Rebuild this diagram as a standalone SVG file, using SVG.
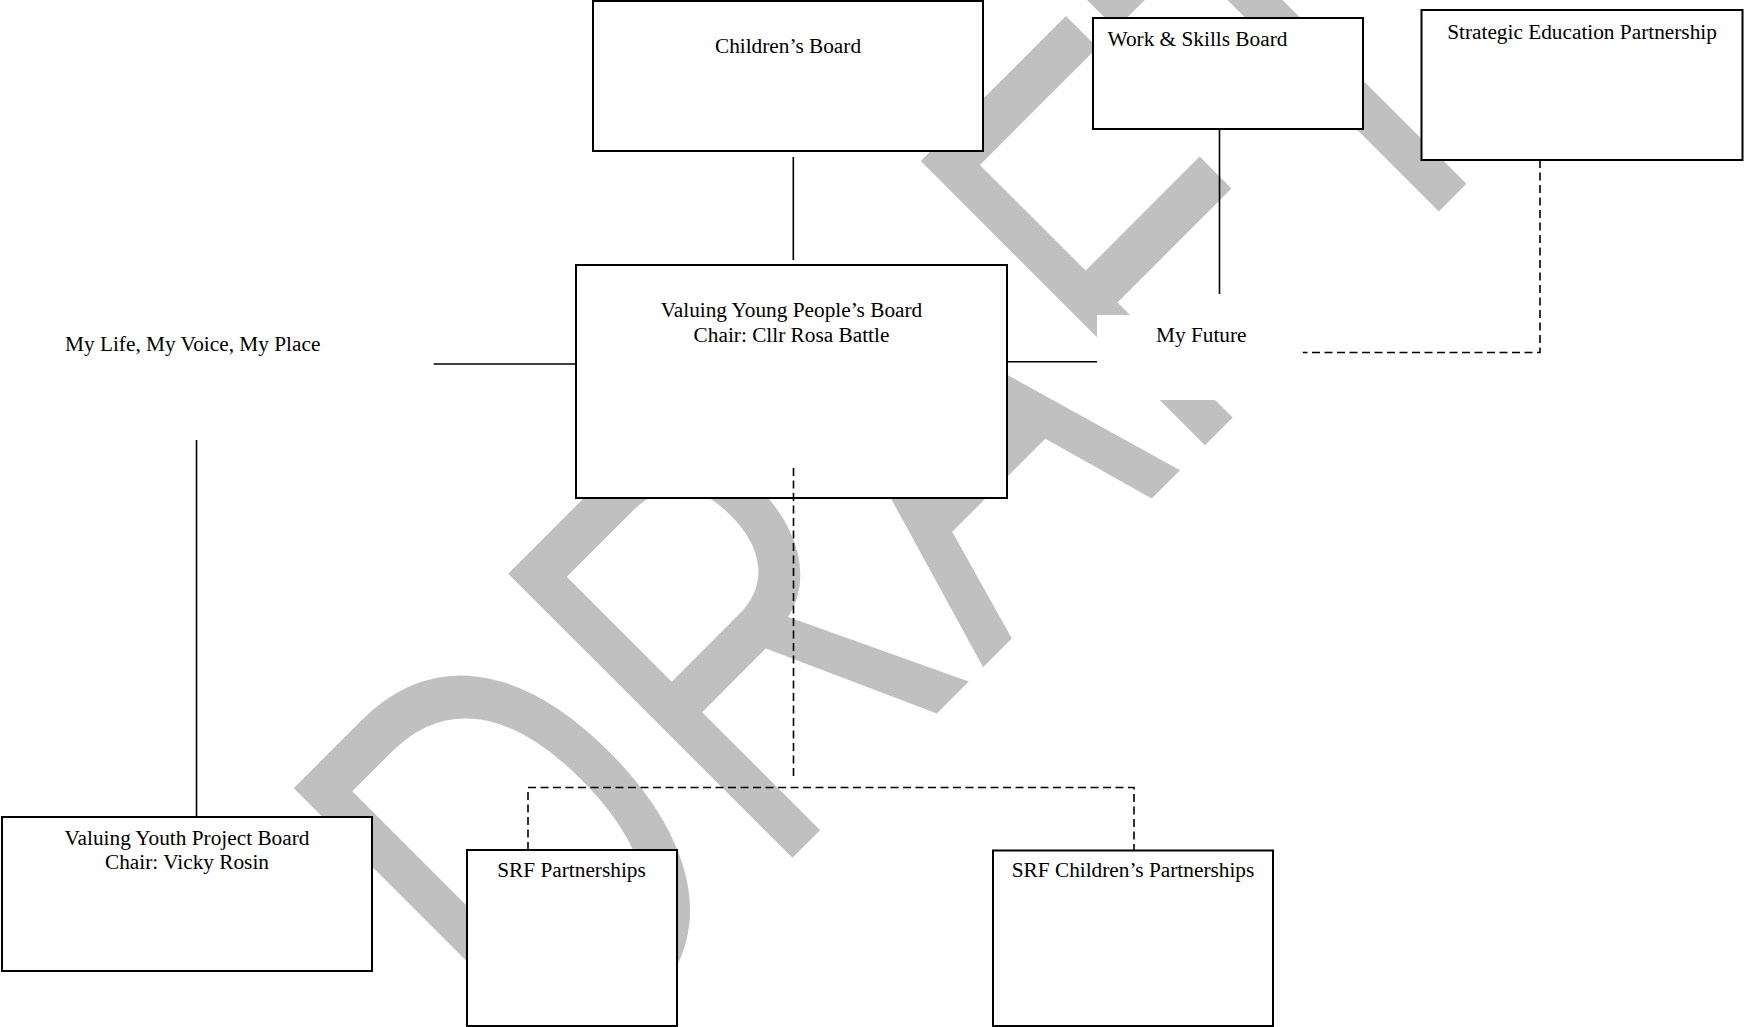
<svg xmlns="http://www.w3.org/2000/svg" width="1744" height="1027" viewBox="0 0 1744 1027">
<defs>
<style>
.box{fill:#ffffff;stroke:#000000;stroke-width:2}
.lbl{font-family:"Liberation Serif","Times New Roman",serif;font-size:21.3px;fill:#000000}
.mid{text-anchor:middle}
.ln{fill:none;stroke:#000000;stroke-width:1.6}
.dash{fill:none;stroke:#000000;stroke-width:1.6;stroke-dasharray:8 4.5}
.wm{font-family:"Liberation Sans",Arial,sans-serif;font-size:420px;fill:#c0c0c0}
</style>
</defs>
<rect x="0" y="0" width="1744" height="1027" fill="#ffffff"/>
<text class="wm" transform="translate(553.6,1096.7) rotate(-45) scale(1,1.391)" x="0" y="0">DRAFT</text>

<g id="childrens-board">
<rect class="box" x="593" y="1" width="390" height="150"/>
<text class="lbl mid" x="788" y="53.3">Children’s Board</text>
</g>
<g id="work-skills-board">
<rect class="box" x="1093" y="18" width="270" height="111"/>
<text class="lbl" x="1107.5" y="45.5">Work &amp; Skills Board</text>
</g>
<g id="strategic-education-partnership">
<rect class="box" x="1421.5" y="10" width="321" height="150"/>
<text class="lbl mid" x="1582" y="39.3">Strategic Education Partnership</text>
</g>
<g id="valuing-young-peoples-board">
<rect class="box" x="576" y="265" width="431" height="233"/>
<text class="lbl mid" x="791.5" y="316.7">Valuing Young People’s Board</text>
<text class="lbl mid" x="791.5" y="341.7">Chair: Cllr Rosa Battle</text>
</g>
<g id="my-life-my-voice-my-place">
<text class="lbl" x="65" y="350.5">My Life, My Voice, My Place</text>
</g>
<g id="my-future">
<rect x="1097" y="315" width="205" height="85" fill="#ffffff"/>
<text class="lbl" x="1156" y="341.7">My Future</text>
</g>
<g id="valuing-youth-project-board">
<rect class="box" x="2" y="817" width="370" height="154"/>
<text class="lbl mid" x="187" y="844.5">Valuing Youth Project Board</text>
<text class="lbl mid" x="187" y="869">Chair: Vicky Rosin</text>
</g>
<g id="srf-partnerships">
<rect class="box" x="467" y="850" width="210" height="176"/>
<text class="lbl mid" x="571.5" y="877.3">SRF Partnerships</text>
</g>
<g id="srf-childrens-partnerships">
<rect class="box" x="993" y="850.5" width="280" height="175.5"/>
<text class="lbl mid" x="1133" y="877.3">SRF Children’s Partnerships</text>
</g>

<g id="connectors">
<line class="ln" x1="793.3" y1="157" x2="793.3" y2="260"/>
<line class="ln" x1="433.6" y1="364" x2="576" y2="364"/>
<line class="ln" x1="1007" y1="361.7" x2="1097" y2="361.7"/>
<line class="ln" x1="1219.5" y1="129" x2="1219.5" y2="294"/>
<line class="ln" x1="196.5" y1="440" x2="196.5" y2="817"/>
<polyline class="dash" points="1540,160 1540,352.5 1302.7,352.5"/>
<line class="dash" x1="793.5" y1="468" x2="793.5" y2="780"/>
<polyline class="dash" points="528,850 528,787.5 1134,787.5 1134,850.5"/>
</g>
</svg>
